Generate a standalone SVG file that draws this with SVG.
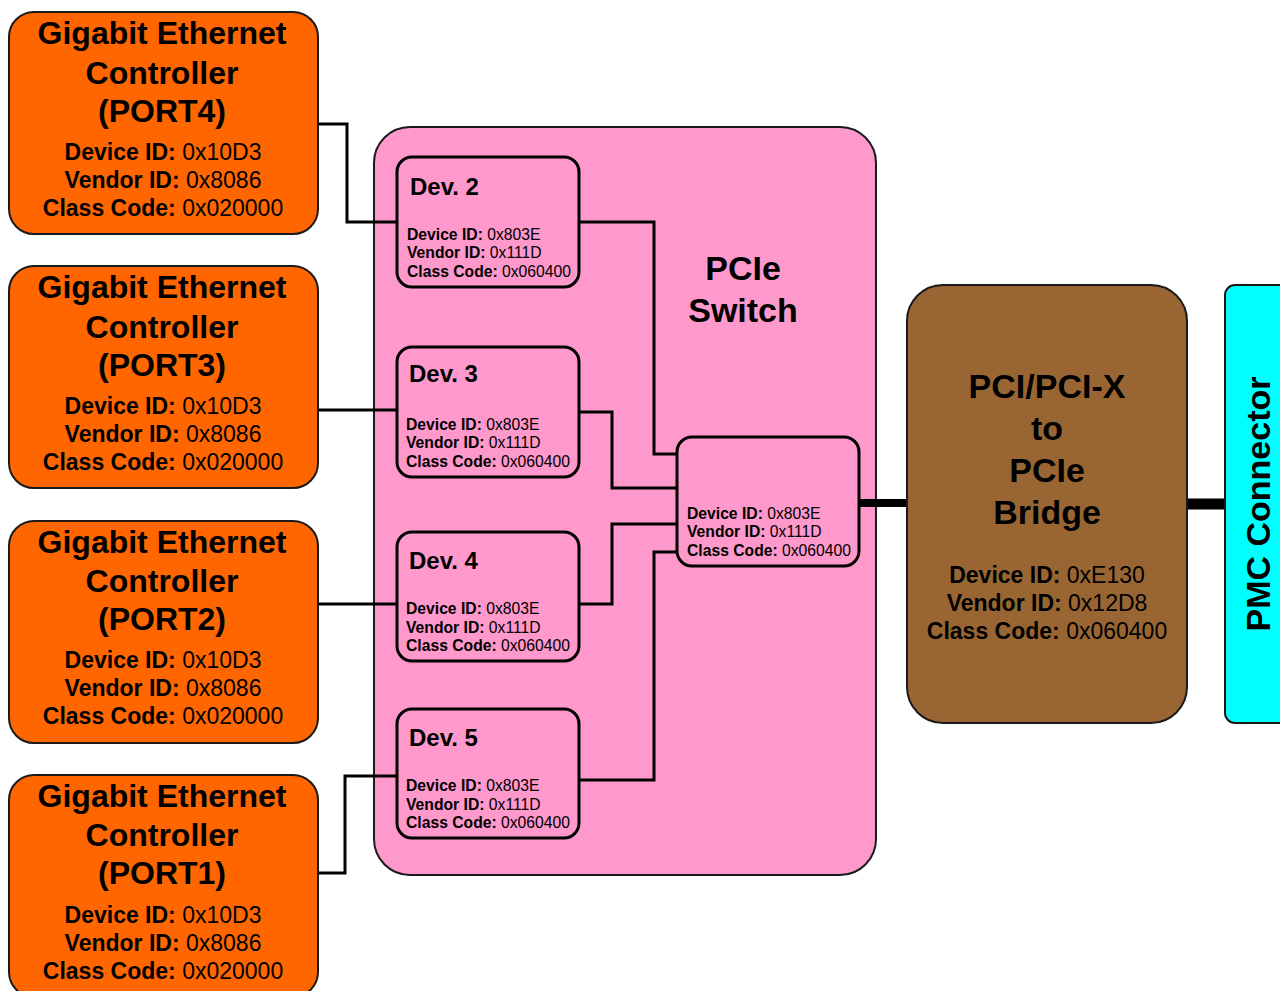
<svg xmlns="http://www.w3.org/2000/svg" width="1280" height="991" viewBox="0 0 1280 991">
<style>
.eth{fill:#FF6600;stroke:#1a1a1a;stroke-width:2}
.sw{fill:#FF99CC;stroke:#1a1a1a;stroke-width:2}
.dev{fill:#FF99CC;stroke:#000;stroke-width:3}
.br{fill:#996633;stroke:#1a1a1a;stroke-width:2}
.pmc{fill:#00FFFF;stroke:#1a1a1a;stroke-width:2}
text{font-family:"Liberation Sans",Arial,sans-serif;fill:#000}
.big{font-size:32px;font-weight:bold;text-anchor:middle}
.id{font-size:23px;text-anchor:middle}
.t34{font-size:34px;font-weight:bold;text-anchor:middle}
.dt{font-size:24px;font-weight:bold}
.sm{font-size:15.7px}
.b{font-weight:bold}
.w{stroke:#000;stroke-width:3;fill:none}
.tk{stroke:#000;fill:none}
</style>
<g id="pcie-switch">
<rect class="sw" x="374" y="127" width="502" height="748" rx="36"/>
<text class="t34" x="743" y="280">PCIe</text>
<text class="t34" x="743" y="322">Switch</text>
</g>
<g id="connectors">
<polyline class="w" points="318,124 347,124 347,222 397,222"/>
<polyline class="w" points="318,410 397,410"/>
<polyline class="w" points="318,604 397,604"/>
<polyline class="w" points="318,873 345,873 345,776 397,776"/>
<polyline class="w" points="579,222 654,222 654,454 677,454"/>
<polyline class="w" points="579,412 612,412 612,488 677,488"/>
<polyline class="w" points="579,604 612,604 612,524 677,524"/>
<polyline class="w" points="579,780 654,780 654,552 677,552"/>
<line class="tk" x1="859" y1="503" x2="907" y2="503" stroke-width="8"/>
<line class="tk" x1="1187" y1="504" x2="1225" y2="504" stroke-width="11"/>
</g>
<g id="port4">
<rect class="eth" x="9" y="12" width="309" height="222" rx="25"/>
<text class="big" x="162" y="44">Gigabit Ethernet</text>
<text class="big" x="162" y="84">Controller</text>
<text class="big" x="162" y="122">(PORT4)</text>
<text class="id" x="163" y="160"><tspan class="b">Device ID:</tspan> 0x10D3</text>
<text class="id" x="163" y="188"><tspan class="b">Vendor ID:</tspan> 0x8086</text>
<text class="id" x="163" y="216"><tspan class="b">Class Code:</tspan> 0x020000</text>
</g>
<g id="port3">
<rect class="eth" x="9" y="266" width="309" height="222" rx="25"/>
<text class="big" x="162" y="298">Gigabit Ethernet</text>
<text class="big" x="162" y="338">Controller</text>
<text class="big" x="162" y="376">(PORT3)</text>
<text class="id" x="163" y="414"><tspan class="b">Device ID:</tspan> 0x10D3</text>
<text class="id" x="163" y="442"><tspan class="b">Vendor ID:</tspan> 0x8086</text>
<text class="id" x="163" y="470"><tspan class="b">Class Code:</tspan> 0x020000</text>
</g>
<g id="port2">
<rect class="eth" x="9" y="521" width="309" height="222" rx="25"/>
<text class="big" x="162" y="553">Gigabit Ethernet</text>
<text class="big" x="162" y="592">Controller</text>
<text class="big" x="162" y="630">(PORT2)</text>
<text class="id" x="163" y="668"><tspan class="b">Device ID:</tspan> 0x10D3</text>
<text class="id" x="163" y="696"><tspan class="b">Vendor ID:</tspan> 0x8086</text>
<text class="id" x="163" y="724"><tspan class="b">Class Code:</tspan> 0x020000</text>
</g>
<g id="port1">
<rect class="eth" x="9" y="775" width="309" height="222" rx="25"/>
<text class="big" x="162" y="807">Gigabit Ethernet</text>
<text class="big" x="162" y="846">Controller</text>
<text class="big" x="162" y="884">(PORT1)</text>
<text class="id" x="163" y="923"><tspan class="b">Device ID:</tspan> 0x10D3</text>
<text class="id" x="163" y="951"><tspan class="b">Vendor ID:</tspan> 0x8086</text>
<text class="id" x="163" y="979"><tspan class="b">Class Code:</tspan> 0x020000</text>
</g>
<g id="dev2">
<rect class="dev" x="397" y="157" width="182" height="130" rx="15"/>
<text class="dt" x="410" y="195">Dev. 2</text>
<text class="sm" x="407" y="240"><tspan class="b">Device ID:</tspan> 0x803E</text>
<text class="sm" x="407" y="258"><tspan class="b">Vendor ID:</tspan> 0x111D</text>
<text class="sm" x="407" y="277"><tspan class="b">Class Code:</tspan> 0x060400</text>
</g>
<g id="dev3">
<rect class="dev" x="397" y="347" width="182" height="130" rx="15"/>
<text class="dt" x="409" y="382">Dev. 3</text>
<text class="sm" x="406" y="430"><tspan class="b">Device ID:</tspan> 0x803E</text>
<text class="sm" x="406" y="448"><tspan class="b">Vendor ID:</tspan> 0x111D</text>
<text class="sm" x="406" y="467"><tspan class="b">Class Code:</tspan> 0x060400</text>
</g>
<g id="dev4">
<rect class="dev" x="397" y="532" width="182" height="129" rx="15"/>
<text class="dt" x="409" y="569">Dev. 4</text>
<text class="sm" x="406" y="614"><tspan class="b">Device ID:</tspan> 0x803E</text>
<text class="sm" x="406" y="633"><tspan class="b">Vendor ID:</tspan> 0x111D</text>
<text class="sm" x="406" y="651"><tspan class="b">Class Code:</tspan> 0x060400</text>
</g>
<g id="dev5">
<rect class="dev" x="397" y="709" width="182" height="129" rx="15"/>
<text class="dt" x="409" y="746">Dev. 5</text>
<text class="sm" x="406" y="791"><tspan class="b">Device ID:</tspan> 0x803E</text>
<text class="sm" x="406" y="810"><tspan class="b">Vendor ID:</tspan> 0x111D</text>
<text class="sm" x="406" y="828"><tspan class="b">Class Code:</tspan> 0x060400</text>
</g>
<g id="upstream">
<rect class="dev" x="677" y="437" width="182" height="129" rx="15"/>
<text class="sm" x="687" y="519"><tspan class="b">Device ID:</tspan> 0x803E</text>
<text class="sm" x="687" y="537"><tspan class="b">Vendor ID:</tspan> 0x111D</text>
<text class="sm" x="687" y="556"><tspan class="b">Class Code:</tspan> 0x060400</text>
</g>
<g id="bridge">
<rect class="br" x="907" y="285" width="280" height="438" rx="36"/>
<text class="t34" x="1047" y="398">PCI/PCI-X</text>
<text class="t34" x="1047" y="440">to</text>
<text class="t34" x="1047" y="482">PCIe</text>
<text class="t34" x="1047" y="524">Bridge</text>
<text class="id" x="1047" y="583"><tspan class="b">Device ID:</tspan> 0xE130</text>
<text class="id" x="1047" y="611"><tspan class="b">Vendor ID:</tspan> 0x12D8</text>
<text class="id" x="1047" y="639"><tspan class="b">Class Code:</tspan> 0x060400</text>
</g>
<g id="pmc">
<rect class="pmc" x="1225" y="285" width="80" height="438" rx="10"/>
<text class="t34" transform="translate(1270,504) rotate(-90)" x="0" y="0">PMC Connector</text>
</g>
</svg>
